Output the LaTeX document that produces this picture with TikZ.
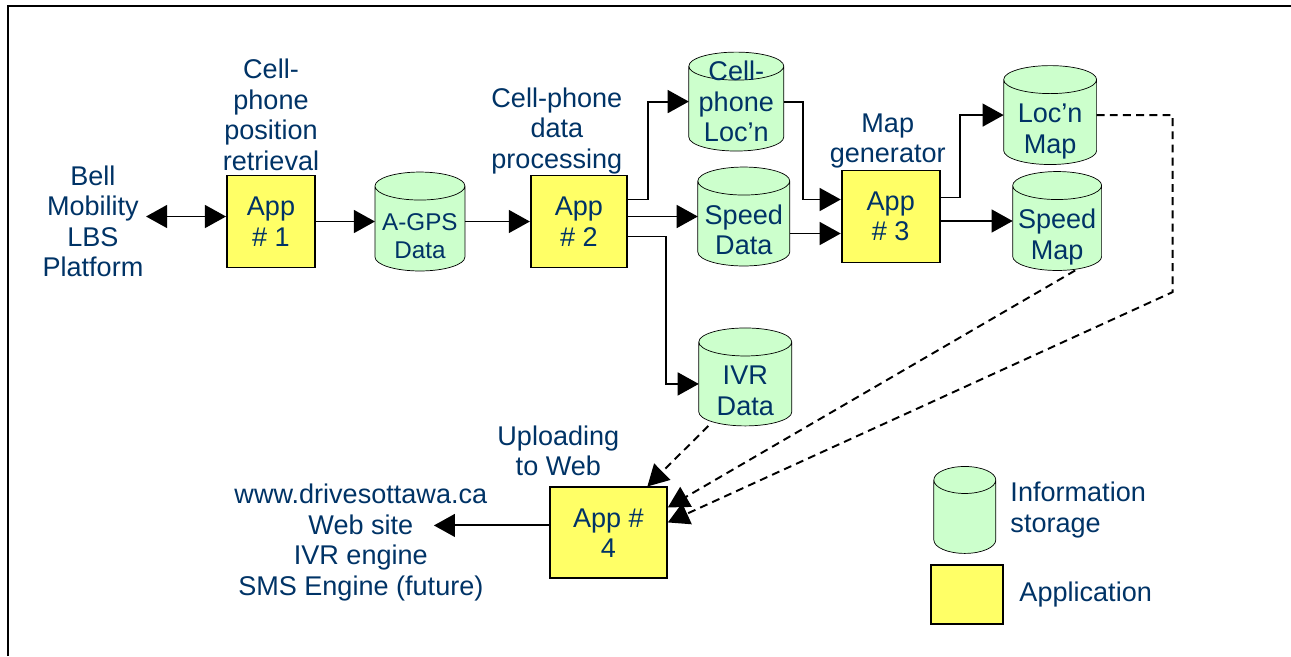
\documentclass[tikz,border=0pt]{standalone}
\usepackage{fontspec}
\setmainfont{Liberation Sans}
\usetikzlibrary{arrows.meta,calc,backgrounds,positioning}

\definecolor{navy}{RGB}{0,51,102}
\definecolor{appyellow}{RGB}{255,255,102}
\definecolor{dbgreen}{RGB}{204,255,204}

% text sits in the body of the cylinder, below the lid
\newcommand{\lowered}[1]{\raisebox{-0.34cm}[\height][\depth]{\begin{tabular}{@{}c@{}}#1\end{tabular}}}

\begin{document}
\begin{tikzpicture}[->,>={Triangle[length=12pt,width=13pt]},line width=1.1pt,
                    font=\fontsize{15.4pt}{17.3pt}\selectfont,text=navy]
	  \tikzstyle{app}=[rectangle,draw=black,fill=appyellow,minimum width=1.86cm,
	                   minimum height=1.84cm,align=center,inner sep=1pt]
	  \tikzstyle{store}=[rectangle,minimum width=1.8cm,minimum height=1.94cm,inner sep=1pt]
	  \tikzstyle{lbl}=[align=center,inner sep=1pt]
	  \tikzstyle{link}=[dash pattern=on 4.5pt off 3pt]

	  \useasboundingbox (0,0) rectangle (25.82,-13.12);
	  \draw[-,line width=1.3pt] (0.16,-13.12) -- (0.16,-0.12) -- (25.82,-0.12);

	  \node[app,minimum width=1.76cm] (app1) at (5.42,-4.43)  {App\\\# 1};
	  \node[lbl]    (bell) [left=1.60cm of app1]              {Bell\\Mobility\\LBS\\Platform};
	  \node[lbl]    (retr) [above=0.03cm of app1]             {Cell-\\phone\\position\\retrieval};
	  \node[store,minimum width=1.76cm,font=\fontsize{13.8pt}{15.9pt}\selectfont]
	                (gps)  [right=1.18cm of app1]             {\lowered{A-GPS\\Data}};

	  \node[app,minimum width=1.92cm] (app2) [right=1.30cm of gps] {App\\\# 2};
	  \node[lbl]    (proc) [above=-0.04cm of app2,xshift=-0.44cm]  {Cell-phone\\data\\processing};
	  \node[store]  (spd)  [right=1.40cm of app2,yshift=0.1cm]     {\lowered{Speed\\Data}};
	  \node[store,minimum width=1.86cm,align=center]
	                (loc)  [above=0.32cm of spd,xshift=-0.15cm]    {Cell-\\phone\\Loc’n};
	  \node[store,minimum width=1.82cm,minimum height=1.92cm]
	                (ivr)  [below=1.24cm of spd,xshift=0.03cm]     {\lowered{IVR\\Data}};

	  \node[app,minimum width=1.96cm] (app3) [right=1.02cm of spd] {App\\\# 3};
	  \node[lbl]    (mapgen) [above=-0.03cm of app3,xshift=-0.06cm] {Map\\generator};
	  \node[store,minimum width=1.74cm]
	                (smap) [right=1.44cm of app3,yshift=-0.09cm]   {\lowered{Speed\\Map}};
	  \node[store,minimum width=1.82cm]
	                (lmap) [above=0.14cm of smap,xshift=-0.14cm]   {\lowered{Loc’n\\Map}};

	  \node[app,minimum width=2.34cm,minimum height=1.82cm]
	                (app4) [below=4.36cm of app2,xshift=0.59cm]    {App \#\\4};
	  \node[lbl]    (upl)  [above=0.16cm of app4,xshift=-1.0cm]    {Uploading\\to Web};
	  \node[lbl]    (web)  [left=1.18cm of app4,yshift=-0.19cm]
	                {www.drivesottawa.ca\\Web site\\IVR engine\\SMS Engine (future)};
	  \coordinate[left=2.3cm of app4,yshift=0.15cm] (webtip);

	  % key
	  \node[store,minimum width=1.2cm,minimum height=1.7cm]
	                (keydb)  [right=5.32cm of app4,yshift=0.46cm]  {};
	  \node[app,minimum width=1.44cm,minimum height=1.18cm]
	                (keyapp) [below=0.22cm of keydb,xshift=0.04cm] {};
	  \node[lbl,align=left] (keydbtxt)  [right=0.24cm of keydb]    {Information\\storage};
	  \node[lbl]            (keyapptxt) [right=0.26cm of keyapp]   {Application};

	  % the cylinders behind the storage nodes
	  \begin{scope}[on background layer,-]
	    \foreach \db/\lid in {gps/0.28,spd/0.28,loc/0.28,ivr/0.28,smap/0.28,lmap/0.28,keydb/0.27}
	      \filldraw[fill=dbgreen] let \p1=(\db.north west), \p2=(\db.south east),
	                                  \n1={(\x2-\x1)/2}, \n2={\lid*1cm} in
	        (\x1,\y1-\n2) -- (\x1,\y2+\n2)
	          arc[start angle=180,end angle=360,x radius=\n1,y radius=\n2]
	          -- (\x2,\y1-\n2)
	          arc[start angle=0,end angle=180,x radius=\n1,y radius=\n2] -- cycle
	        (\x1,\y1-\n2) arc[start angle=180,end angle=360,x radius=\n1,y radius=\n2];
	  \end{scope}

	  \draw[<->] ([yshift=0.1cm]bell.east) -- ++(1.60,0);
	  \draw (app1) -- (gps);
	  \draw (gps) -- (app2);
	  \draw (app2.east |- spd.west) -- (spd.west);
	  \draw ([yshift=0.44cm]app2.east) -- ++(0.4,0) |- (loc.west);
	  \draw ([yshift=-0.3cm]app2.east) -- ++(0.76,0) |- ([yshift=-0.14cm]ivr.west);
	  \draw (loc.east) -- ++(0.38,0) |- ([yshift=0.34cm]app3.west);
	  \draw ([yshift=-0.34cm]spd.east) -- ([yshift=-0.34cm]app3.west);
	  \draw ([yshift=0.38cm]app3.east) -- ++(0.38,0) |- (lmap.west);
	  \draw (app3.east |- smap.west) -- (smap.west);
	  \draw (app4.west |- webtip) -- (webtip);

	  \draw[link] (ivr.233) -- (app4.50);
	  \draw[link] (smap.290) -- ([yshift=0.51cm]app4.east);
	  \draw[link] (lmap.east) -- ++(1.52,0) -- ++(0,-3.54) -- ([yshift=0.21cm]app4.east);
\end{tikzpicture}
\end{document}
